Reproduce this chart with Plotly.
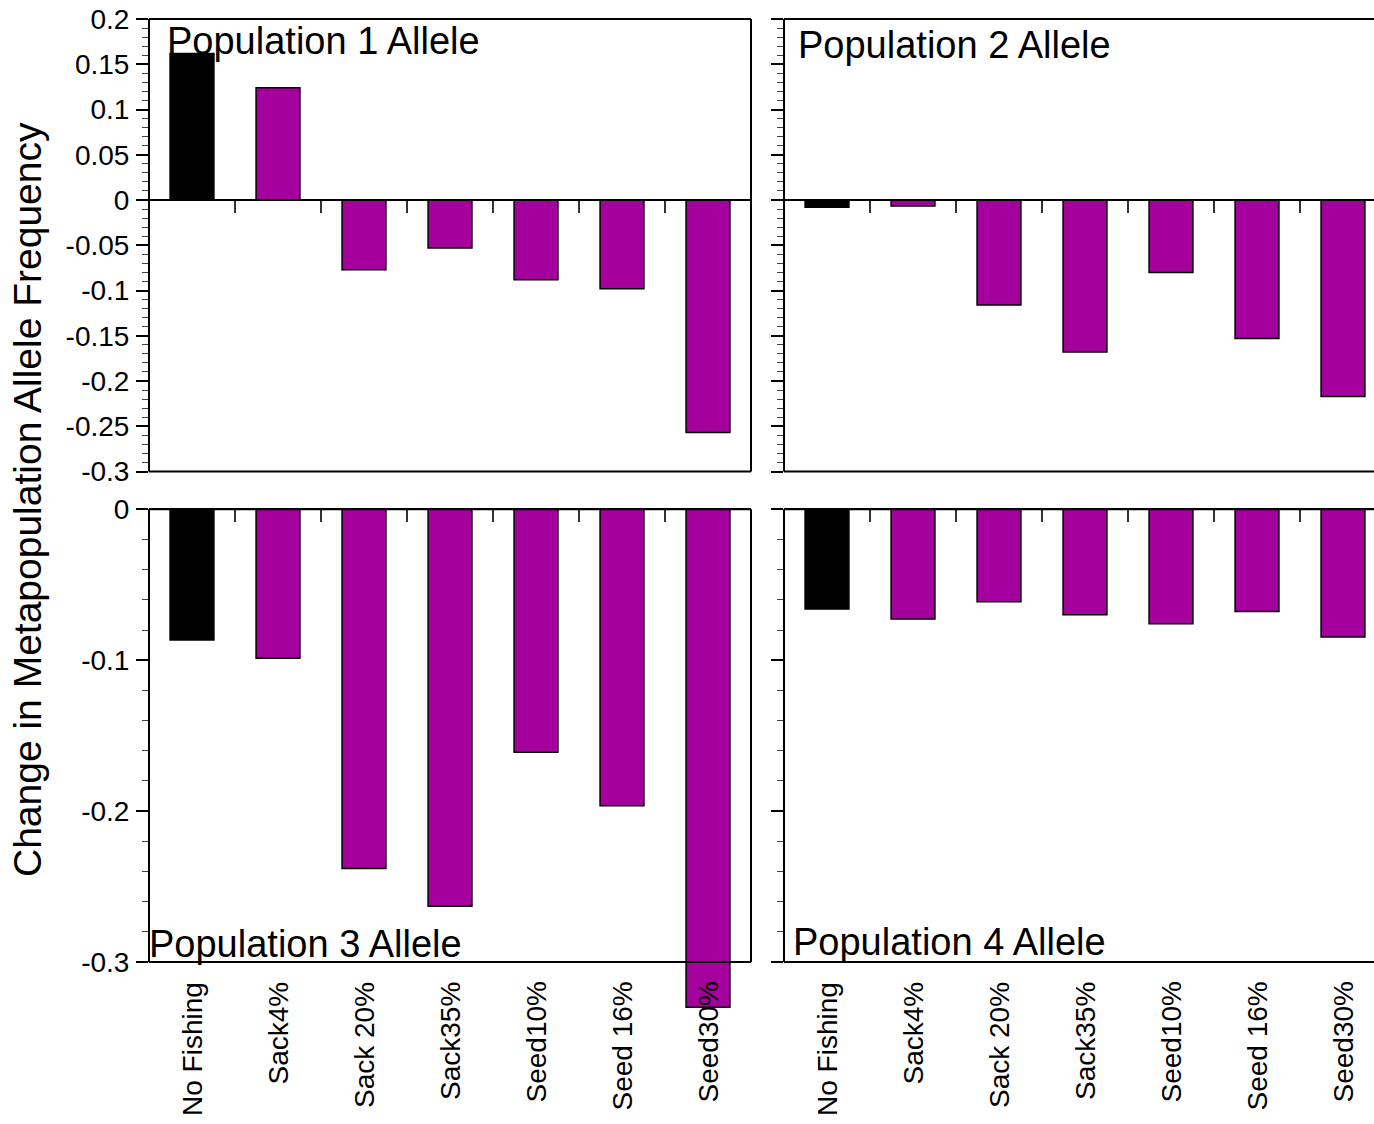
import numpy as np
import plotly.graph_objects as go

# ---- data -------------------------------------------------------------
categories = ["No Fishing", "Sack4%", "Sack 20%", "Sack35%", "Seed10%", "Seed 16%", "Seed30%"]
pop1 = [0.162, 0.124, -0.077, -0.053, -0.088, -0.098, -0.257]
pop2 = [-0.008, -0.0065, -0.116, -0.168, -0.080, -0.153, -0.217]
pop3 = [-0.0866, -0.0987, -0.238, -0.263, -0.161, -0.1965, -0.330]
pop4 = [-0.066, -0.0727, -0.0612, -0.0698, -0.0758, -0.0678, -0.0846]
panel_titles = ["Population 1 Allele", "Population 2 Allele",
                "Population 3 Allele", "Population 4 Allele"]
y_title = "Change in Metapopulation Allele Frequency"

top_tickvals = [0.2, 0.15, 0.1, 0.05, 0, -0.05, -0.1, -0.15, -0.2, -0.25, -0.3]
top_ticktext = ["0.2", "0.15", "0.1", "0.05", "0", "-0.05", "-0.1", "-0.15", "-0.2", "-0.25", "-0.3"]
bot_tickvals = [0, -0.1, -0.2, -0.3]
bot_ticktext = ["0", "-0.1", "-0.2", "-0.3"]

# ---- styling / geometry ----------------------------------------------
W, H = 1374, 1124
FONT = "Liberation Sans, Arial, Helvetica, sans-serif"
PURPLE = "#A5009E"
BLACK = "#000000"

LEFT_PX = (149, 751)
RIGHT_PX = (784, 1374)
TOP_PX = (19, 471.5)          # pixel rows of 0.2 and -0.3
BOT_PX = (509.3, 962.0)       # pixel rows of 0 and -0.3
TOP_RANGE = [-0.3, 0.2]
BOT_FRAME = (-0.3, 0.0)
BOT_RANGE = [-0.336, 0.0]     # room for bars running past the frame

n = len(categories)
slot = (LEFT_PX[1] - LEFT_PX[0]) / n
left_xrange = [-0.5, n - 0.5]
right_xrange = [-0.5, -0.5 + (RIGHT_PX[1] - RIGHT_PX[0]) / slot]


def xdom(px):
    return [px[0] / W, px[1] / W]


top_ydom = [1 - TOP_PX[1] / H, 1 - TOP_PX[0] / H]
bot_px_end = BOT_PX[0] + (BOT_PX[1] - BOT_PX[0]) * (BOT_RANGE[0] / BOT_FRAME[0])
bot_ydom = [1 - bot_px_end / H, 1 - BOT_PX[0] / H]


def ypaper(dom, rng, v):
    return dom[0] + (v - rng[0]) / (rng[1] - rng[0]) * (dom[1] - dom[0])


panels = [
    dict(vals=pop1, xd=xdom(LEFT_PX), xr=left_xrange, yd=top_ydom, yr=TOP_RANGE, top=True, left=True),
    dict(vals=pop2, xd=xdom(RIGHT_PX), xr=right_xrange, yd=top_ydom, yr=TOP_RANGE, top=True, left=False),
    dict(vals=pop3, xd=xdom(LEFT_PX), xr=left_xrange, yd=bot_ydom, yr=BOT_RANGE, top=False, left=True),
    dict(vals=pop4, xd=xdom(RIGHT_PX), xr=right_xrange, yd=bot_ydom, yr=BOT_RANGE, top=False, left=False),
]

fig = go.Figure()
layout = dict(
    template="none",
    width=W, height=H,
    margin=dict(l=0, r=0, t=0, b=0, pad=0),
    paper_bgcolor="white", plot_bgcolor="white",
    showlegend=False,
    font=dict(family=FONT, color="black"),
)
shapes = []
annotations = []
boundaries = [k + 0.5 for k in range(n - 1)]
xs = list(range(n))
colors = [BLACK] + [PURPLE] * (n - 1)

for i, p in enumerate(panels, start=1):
    xa = "x" if i == 1 else f"x{i}"
    ya = "y" if i == 1 else f"y{i}"
    fig.add_trace(go.Bar(
        x=xs, y=p["vals"], xaxis=xa, yaxis=ya, width=0.51,
        marker=dict(color=colors, line=dict(color="black", width=1.5)),
        hoverinfo="skip",
    ))

    zero_pos = ypaper(p["yd"], p["yr"], 0.0)
    # x axis drawn along the zero line, ticks between categories
    layout[f"xaxis{'' if i == 1 else i}"] = dict(
        domain=p["xd"], range=p["xr"], anchor="free", position=zero_pos,
        side="bottom", showline=True, linecolor="black", linewidth=2,
        tickmode="array", tickvals=boundaries, ticks="outside", ticklen=12,
        tickwidth=1.5, tickcolor="#333333", showticklabels=False,
        showgrid=False, zeroline=False, fixedrange=True, automargin=False,
    )

    if p["top"]:
        tv, tt = top_tickvals, top_ticktext
        minor_vals = [float(v) for v in np.round(np.arange(-0.3, 0.2001, 0.01), 3)]
        frame_lo, frame_hi = TOP_RANGE
    else:
        tv, tt = bot_tickvals, bot_ticktext
        minor_vals = [float(v) for v in np.round(np.arange(-0.3, 0.0001, 0.02), 3)]
        frame_lo, frame_hi = BOT_FRAME

    layout[f"yaxis{'' if i == 1 else i}"] = dict(
        domain=p["yd"], range=p["yr"], anchor=xa,
        showline=False, showgrid=False, zeroline=False,
        tickmode="array", tickvals=tv, ticktext=tt,
        ticks="outside", ticklen=12, tickwidth=2, tickcolor="black",
        showticklabels=p["left"], ticklabelstandoff=1,
        tickfont=dict(family=FONT, size=28, color="black"),
        minor=dict(tickvals=minor_vals, ticks="outside", ticklen=6,
                   tickwidth=1, tickcolor="#444444"),
        fixedrange=True, automargin=False,
    )

    # panel frame
    x0, x1 = p["xd"]
    y0 = ypaper(p["yd"], p["yr"], frame_lo)
    y1 = ypaper(p["yd"], p["yr"], frame_hi)
    line = dict(color="black", width=2)
    shapes.append(dict(type="line", xref="paper", yref="paper", x0=x0, x1=x0, y0=y0, y1=y1, line=line))
    shapes.append(dict(type="line", xref="paper", yref="paper", x0=x0, x1=x1, y0=y0, y1=y0, line=line))
    shapes.append(dict(type="line", xref="paper", yref="paper", x0=x0, x1=x1, y0=y1, y1=y1, line=line))
    if p["left"]:
        shapes.append(dict(type="line", xref="paper", yref="paper", x0=x1, x1=x1, y0=y0, y1=y1, line=line))

    # category labels under the bottom panels
    if not p["top"]:
        label_y = y0 - 19 / H
        for k, name in enumerate(categories):
            annotations.append(dict(
                text=name, xref=xa, yref="paper", x=k, y=label_y,
                xanchor="center", yanchor="top", textangle=-90,
                showarrow=False, borderpad=0,
                font=dict(family=FONT, size=28, color="black"),
            ))

# panel titles
title_pos = [(165, 64), (796, 68), (147, 967), (791, 965)]
for text, (tx, ty) in zip(panel_titles, title_pos):
    annotations.append(dict(
        text=text, xref="paper", yref="paper", x=tx / W, y=1 - ty / H,
        xanchor="left", yanchor="bottom", showarrow=False,
        font=dict(family=FONT, size=38, color="black"),
    ))

# shared y title
annotations.append(dict(
    text=y_title, xref="paper", yref="paper", x=27 / W, y=1 - 500 / H,
    xanchor="center", yanchor="middle", textangle=-90, showarrow=False,
    font=dict(family=FONT, size=39, color="black"),
))

layout["shapes"] = shapes
layout["annotations"] = annotations
fig.update_layout(**layout)
fig.write_html("out.html", config={"displayModeBar": False})
